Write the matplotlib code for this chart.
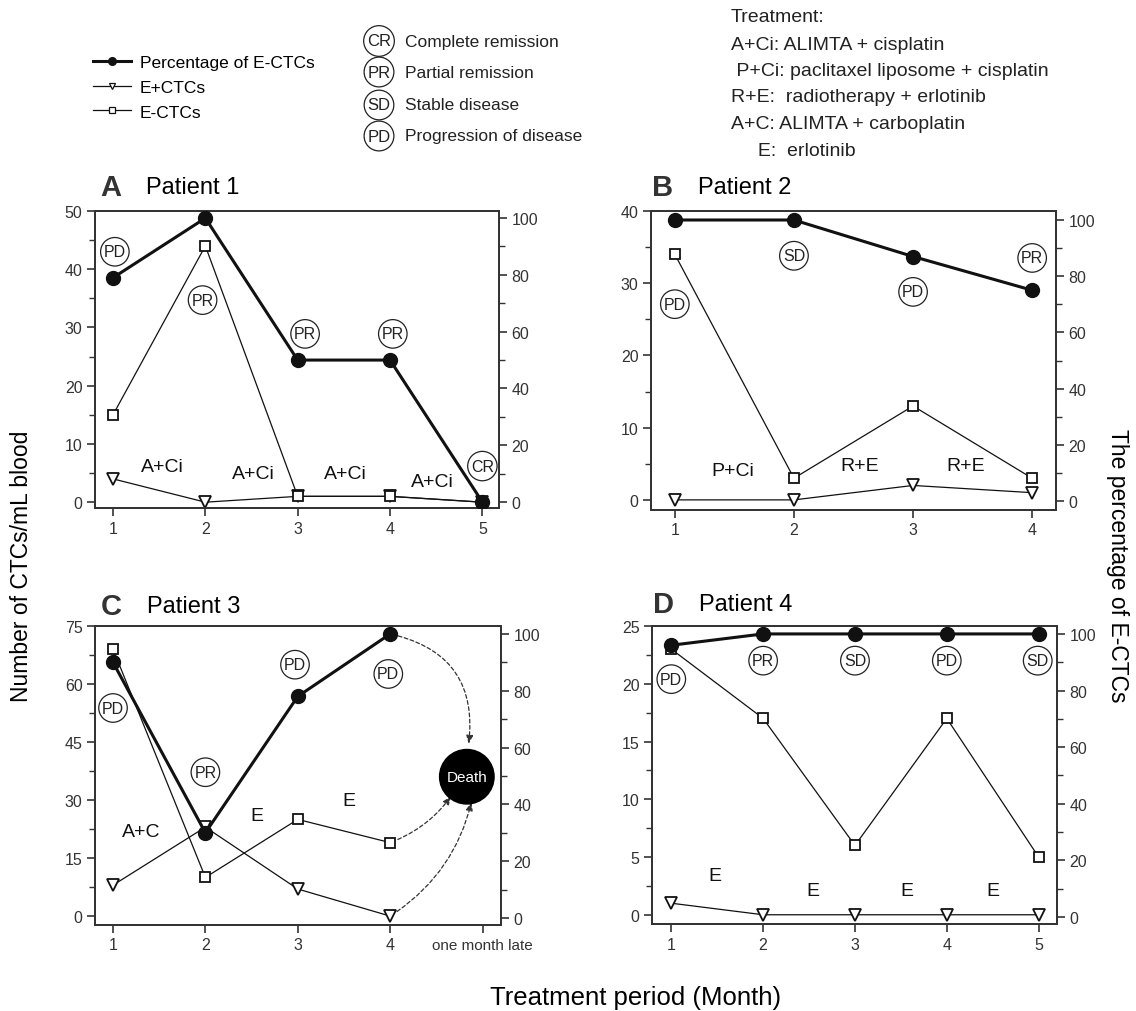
import matplotlib
matplotlib.use("Agg")
import matplotlib.pyplot as plt
from matplotlib.lines import Line2D
from matplotlib.ticker import MultipleLocator, FixedLocator

plt.rcParams['font.family'] = ['Liberation Sans', 'DejaVu Sans']

# ---- data ----
months_p1 = [1, 2, 3, 4, 5]
pct_p1 = [79, 100, 50, 50, 0]
ectc_p1 = [15, 44, 1, 1, 0]
eplus_p1 = [4, 0, 1, 1, 0]
status_p1 = ["PD", "PR", "PR", "PR", "CR"]
treat_p1 = ["A+Ci", "A+Ci", "A+Ci", "A+Ci"]

months_p2 = [1, 2, 3, 4]
pct_p2 = [100, 100, 87, 75]
ectc_p2 = [34, 3, 13, 3]
eplus_p2 = [0, 0, 2, 1]
status_p2 = ["PD", "SD", "PD", "PR"]
treat_p2 = ["P+Ci", "R+E", "R+E"]

months_p3 = [1, 2, 3, 4]
pct_p3 = [90, 30, 78, 100]
ectc_p3 = [69, 10, 25, 19]
eplus_p3 = [8, 23, 7, 0]
status_p3 = ["PD", "PR", "PD", "PD"]
treat_p3 = ["A+C", "E", "E"]
xticklabels_p3 = ["1", "2", "3", "4", "one month late"]

months_p4 = [1, 2, 3, 4, 5]
pct_p4 = [96, 100, 100, 100, 100]
ectc_p4 = [23, 17, 6, 17, 5]
eplus_p4 = [1, 0, 0, 0, 0]
status_p4 = ["PD", "PR", "SD", "PD", "SD"]
treat_p4 = ["E", "E", "E", "E"]

status_names = [("CR", "Complete remission"), ("PR", "Partial remission"),
                ("SD", "Stable disease"), ("PD", "Progression of disease")]
treatment_lines = ["Treatment:",
                   "A+Ci: ALIMTA + cisplatin",
                   " P+Ci: paclitaxel liposome + cisplatin",
                   "R+E:  radiotherapy + erlotinib",
                   "A+C: ALIMTA + carboplatin",
                   "     E:  erlotinib"]

W, H = 1136, 1012
fig = plt.figure(figsize=(W / 100, H / 100), dpi=100)

def fx(x):
    return x / W

def fy(y):
    return 1 - y / H

DARK = "#111111"
SPINE = "#333333"

def panel(box, months, pct, ectc, eplus, status, treat, cfg):
    l, t, r, b = box
    ax = fig.add_axes([fx(l), fy(b), fx(r - l), (b - t) / H])
    ax2 = ax.twinx()
    ax.plot(months, eplus, color=DARK, lw=0.9, marker="v", ms=8.5,
            mfc="white", mec=DARK, mew=1.3, zorder=3)
    ax.plot(months, ectc, color=DARK, lw=0.9, marker="s", ms=7,
            mfc="white", mec=DARK, mew=1.3, zorder=3)
    ax2.plot(months, pct, color=DARK, lw=2.2, marker="o", ms=10,
             mfc=DARK, mec=DARK, zorder=3)
    ax.set_xlim(*cfg["xlim"])
    ax.set_ylim(*cfg["ylim"])
    ax2.set_ylim(*cfg["ylim2"])
    ax.yaxis.set_major_locator(MultipleLocator(cfg["ymaj"]))
    ax.yaxis.set_minor_locator(MultipleLocator(cfg["ymaj"] / 2))
    ax2.yaxis.set_major_locator(MultipleLocator(20))
    ax2.yaxis.set_minor_locator(MultipleLocator(10))
    ax.xaxis.set_major_locator(FixedLocator(cfg.get("xticks", months)))
    if "xticklabels" in cfg:
        ax.set_xticklabels(cfg["xticklabels"])
    for a in (ax, ax2):
        for s in a.spines.values():
            s.set_color(SPINE)
            s.set_linewidth(1.3)
        a.tick_params(which="major", direction="out", length=6, width=1.2,
                      color=SPINE, labelsize=11.5, labelcolor="#333333", pad=3)
        a.tick_params(which="minor", direction="out", length=4, width=1.0,
                      color=SPINE)
    for (x, y), s in zip(cfg["status_pos"], status):
        ax.text(x, y, s, fontsize=11.5, ha="center", va="center", color="#222222",
                bbox=dict(boxstyle="circle,pad=0.2", fc="none", ec="#222222", lw=0.9),
                zorder=4)
    for (x, y), s in zip(cfg["treat_pos"], treat):
        ax.text(x, y, s, fontsize=14, ha="center", va="center", color="#111111")
    fig.text(fx(cfg["letter"][0]), fy(cfg["letter"][1]), cfg["name"][0],
             fontsize=21, fontweight="bold", color="#333333", va="center", ha="left")
    fig.text(fx(cfg["letter"][0] + 46), fy(cfg["letter"][1]), cfg["name"][1],
             fontsize=17, color="black", va="center", ha="left")
    return ax, ax2

cfgA = dict(xlim=(0.805, 5.18), ylim=(-1.0, 50), ylim2=(-2.1, 102.5), ymaj=10,
            status_pos=[(1.02, 43), (1.97, 34.7), (3.08, 28.9), (4.03, 28.9), (5.0, 6.2)],
            treat_pos=[(1.53, 6.2), (2.52, 5.0), (3.52, 5.0), (4.46, 3.6)],
            letter=(100, 188), name=("A", "Patient 1"))
cfgB = dict(xlim=(0.80, 4.2), ylim=(-1.4, 40), ylim2=(-3.2, 103.2), ymaj=10,
            status_pos=[(1.0, 27.1), (2.0, 33.8), (3.0, 28.8), (4.0, 33.5)],
            treat_pos=[(1.49, 4.0), (2.55, 4.7), (3.44, 4.7)],
            letter=(652, 188), name=("B", "Patient 2"))
cfgC = dict(xlim=(0.805, 5.2), ylim=(-2.3, 75), ylim2=(-2.5, 102.8), ymaj=15,
            xticks=[1, 2, 3, 4, 5], xticklabels=xticklabels_p3,
            status_pos=[(1.0, 53.8), (2.0, 37.2), (2.97, 65), (3.98, 62.6)],
            treat_pos=[(1.3, 22), (2.56, 25.9), (3.55, 30)],
            letter=(101, 607), name=("C", "Patient 3"))
cfgD = dict(xlim=(0.79, 5.2), ylim=(-0.8, 25), ylim2=(-2.5, 102.8), ymaj=5,
            status_pos=[(1.0, 20.4), (2.0, 22), (3.0, 22), (4.0, 22), (4.99, 22)],
            treat_pos=[(1.48, 3.4), (2.54, 2.1), (3.56, 2.1), (4.5, 2.1)],
            letter=(653, 605), name=("D", "Patient 4"))

panel((95, 212, 499, 509), months_p1, pct_p1, ectc_p1, eplus_p1, status_p1, treat_p1, cfgA)
panel((651, 212, 1056, 511), months_p2, pct_p2, ectc_p2, eplus_p2, status_p2, treat_p2, cfgB)
axC, axC2 = panel((95, 627, 501, 926), months_p3, pct_p3, ectc_p3, eplus_p3,
                  status_p3, treat_p3, cfgC)
panel((652, 627, 1057, 925), months_p4, pct_p4, ectc_p4, eplus_p4, status_p4, treat_p4, cfgD)

axC.get_xticklabels()[-1].set_fontsize(11)

# death marker and dashed arrows (patient 3)
axC2.text(4.83, 37 * 102.8 / 75 - 1.0, "Death", fontsize=11, color="white",
          ha="center", va="center", zorder=6,
          bbox=dict(boxstyle="circle,pad=0.45", fc="black", ec="black"))
arr = dict(arrowstyle="-|>,head_length=0.5,head_width=0.2", linestyle=(0, (3, 2)),
           lw=0.9, color="#333333", shrinkA=6, shrinkB=0)
axC2.annotate("", xy=(4.85, 44.5), xycoords=axC.transData,
              xytext=(months_p3[-1], pct_p3[-1]), textcoords=axC2.transData,
              arrowprops=dict(arr, connectionstyle="arc3,rad=-0.45"))
axC2.annotate("", xy=(4.66, 31), xycoords=axC.transData,
              xytext=(months_p3[-1], ectc_p3[-1]), textcoords=axC.transData,
              arrowprops=dict(arr, connectionstyle="arc3,rad=0.15"))
axC2.annotate("", xy=(4.88, 29.5), xycoords=axC.transData,
              xytext=(months_p3[-1], eplus_p3[-1]), textcoords=axC.transData,
              arrowprops=dict(arr, connectionstyle="arc3,rad=0.2"))

# axis titles
fig.text(fx(22), fy(566), "Number of CTCs/mL blood", rotation=90, fontsize=16.5,
         ha="center", va="center")
fig.text(fx(1117), fy(566), "The percentage of E-CTCs", rotation=270, fontsize=16.5,
         ha="center", va="center")
fig.text(fx(636), fy(998), "Treatment period (Month)", fontsize=18.5,
         ha="center", va="center")

# series legend
handles = [Line2D([], [], color=DARK, lw=2.2, marker="o", ms=5.5),
           Line2D([], [], color=DARK, lw=0.9, marker="v", ms=5, mfc="white", mew=0.9),
           Line2D([], [], color=DARK, lw=0.9, marker="s", ms=4.5, mfc="white", mew=0.9)]
fig.legend(handles, ["Percentage of E-CTCs", "E+CTCs", "E-CTCs"],
           loc="upper left", bbox_to_anchor=(fx(93), fy(56)), frameon=False,
           fontsize=12.5, handlelength=2.2, handletextpad=0.5, labelspacing=0.55,
           borderpad=0, borderaxespad=0)

# status legend
for i, (code, desc) in enumerate(status_names):
    y = [42, 73, 106, 137][i]
    fig.text(fx(379), fy(y), code, fontsize=12, ha="center", va="center", color="#222222",
             bbox=dict(boxstyle="circle,pad=0.2", fc="none", ec="#222222", lw=0.9))
    fig.text(fx(405), fy(y), desc, fontsize=12.5, ha="left", va="center", color="#222222")

# treatment key
for i, line in enumerate(treatment_lines):
    fig.text(fx(731), fy([17, 45, 72, 98, 125, 152][i]), line, fontsize=14,
             ha="left", va="center", color="#222222")

fig.savefig("out.png", dpi=100)
